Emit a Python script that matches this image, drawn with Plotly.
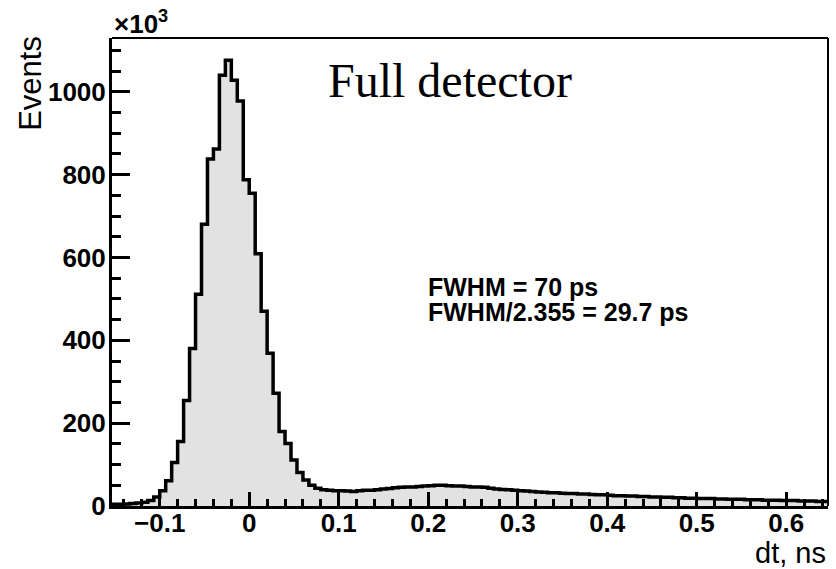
import plotly.graph_objects as go

# ---------------- data ----------------
bin_first_edge = -23 / 150.0   # ns
bin_width = 1 / 150.0          # ns
# counts per bin in units of 10^3 events (120 bins)
counts_k = [
    4, 4, 5, 6, 7, 9, 13, 22, 37, 61,
    105, 156, 255, 380, 511, 680, 838, 862, 1040, 1076,
    1028, 978, 788, 755, 609, 470, 369, 272, 180, 151,
    111, 81, 63, 50, 43, 39, 38, 37, 37, 36,
    35, 37, 38, 38, 39, 41, 42, 44, 45, 46,
    46, 47, 48, 49, 50, 50, 49, 48, 48, 47,
    46, 46, 45, 43, 41, 40, 39, 38, 37, 36,
    35, 34, 33, 32, 32, 31, 30, 30, 29, 29,
    28, 27, 27, 26, 25, 25, 24, 24, 23, 23,
    22, 22, 21, 21, 20, 20, 19, 19, 18, 18,
    18, 17, 17, 16, 16, 16, 15, 15, 15, 14,
    14, 14, 13, 13, 13, 12, 12, 12, 11, 11,
]
x_tick_vals = [-0.1, 0, 0.1, 0.2, 0.3, 0.4, 0.5, 0.6]
x_tick_text = ["\u22120.1", "0", "0.1", "0.2", "0.3", "0.4", "0.5", "0.6"]
y_tick_vals = [0, 200, 400, 600, 800, 1000]
y_tick_text = ["0", "200", "400", "600", "800", "1000"]
title_text = "Full detector"
fwhm_lines = ["FWHM = 70 ps", "FWHM/2.355 = 29.7 ps"]
x_title = "dt, ns"
y_title = "Events"

# ---------------- build ----------------
n_bins = len(counts_k)
edges = [bin_first_edge + k * bin_width for k in range(n_bins + 1)]
x_hist = edges
y_hist = counts_k + [counts_k[-1]]

fig = go.Figure()
fig.add_trace(go.Scatter(
    x=x_hist, y=y_hist, mode="lines",
    line=dict(shape="hv", color="black", width=3.5),
    fill="tozeroy", fillcolor="#e2e2e2",
    hoverinfo="skip", showlegend=False,
))

sans = "Liberation Sans"
tickfont = dict(family=sans, size=26, color="black", weight="bold")

fig.update_layout(
    width=836, height=569,
    margin=dict(l=112, r=8, t=38, b=63),
    paper_bgcolor="white", plot_bgcolor="white",
    showlegend=False,
    xaxis=dict(
        range=[edges[0], edges[-1]],
        tickmode="array", tickvals=x_tick_vals, ticktext=x_tick_text,
        ticks="inside", ticklen=14, tickwidth=2.5, tickcolor="black",
        minor=dict(ticks="inside", ticklen=7, tickwidth=2.5, tickcolor="black",
                   tickmode="linear", tick0=0, dtick=0.02),
        showline=True, linewidth=3, linecolor="black", mirror=False,
        showgrid=False, zeroline=False,
        tickfont=tickfont, ticklabelstandoff=-8,
    ),
    yaxis=dict(
        range=[0, 1130],
        tickmode="array", tickvals=y_tick_vals, ticktext=y_tick_text,
        ticks="inside", ticklen=18, tickwidth=2.5, tickcolor="black",
        minor=dict(ticks="inside", ticklen=9, tickwidth=2.5, tickcolor="black",
                   tickmode="linear", tick0=0, dtick=50),
        showline=True, linewidth=3, linecolor="black", mirror=False,
        showgrid=False, zeroline=False,
        tickfont=tickfont, ticklabelstandoff=-2,
    ),
)

# frame top and right
fig.add_shape(type="line", xref="paper", yref="paper", x0=0, x1=1, y0=1, y1=1,
              line=dict(color="black", width=2))
fig.add_shape(type="line", xref="paper", yref="paper", x0=1, x1=1, y0=0, y1=1,
              line=dict(color="black", width=2))

# axis titles
fig.add_annotation(text=y_title, xref="paper", yref="paper",
                   x=-0.113, y=1.008, xanchor="center", yanchor="top",
                   textangle=-90, showarrow=False,
                   font=dict(family=sans, size=31, color="black"))
fig.add_annotation(text=x_title, xref="paper", yref="paper",
                   x=1.0, y=-(535 - 506) / 468, xanchor="right", yanchor="top",
                   showarrow=False,
                   font=dict(family=sans, size=29, color="black"))
fig.add_annotation(text="\u00d710<sup>3</sup>", xref="paper", yref="paper",
                   x=0.0, y=1.0, xanchor="left", yanchor="bottom",
                   showarrow=False, yshift=-3,
                   font=dict(family=sans, size=26, color="black", weight="bold"))

# text
fig.add_annotation(text=title_text, xref="paper", yref="paper",
                   x=(326 - 112) / 716, y=1 - (52 - 38) / 468,
                   xanchor="left", yanchor="top", showarrow=False,
                   font=dict(family="Liberation Serif", size=48, color="black"))
fig.add_annotation(text=fwhm_lines[0], xref="paper", yref="paper",
                   x=(426 - 112) / 716, y=1 - (271 - 38) / 468,
                   xanchor="left", yanchor="top", showarrow=False,
                   font=dict(family=sans, size=25, color="black", weight="bold"))
fig.add_annotation(text=fwhm_lines[1], xref="paper", yref="paper",
                   x=(426 - 112) / 716, y=1 - (296 - 38) / 468,
                   xanchor="left", yanchor="top", showarrow=False,
                   font=dict(family=sans, size=25, color="black", weight="bold"))

fig.write_html("out.html")
